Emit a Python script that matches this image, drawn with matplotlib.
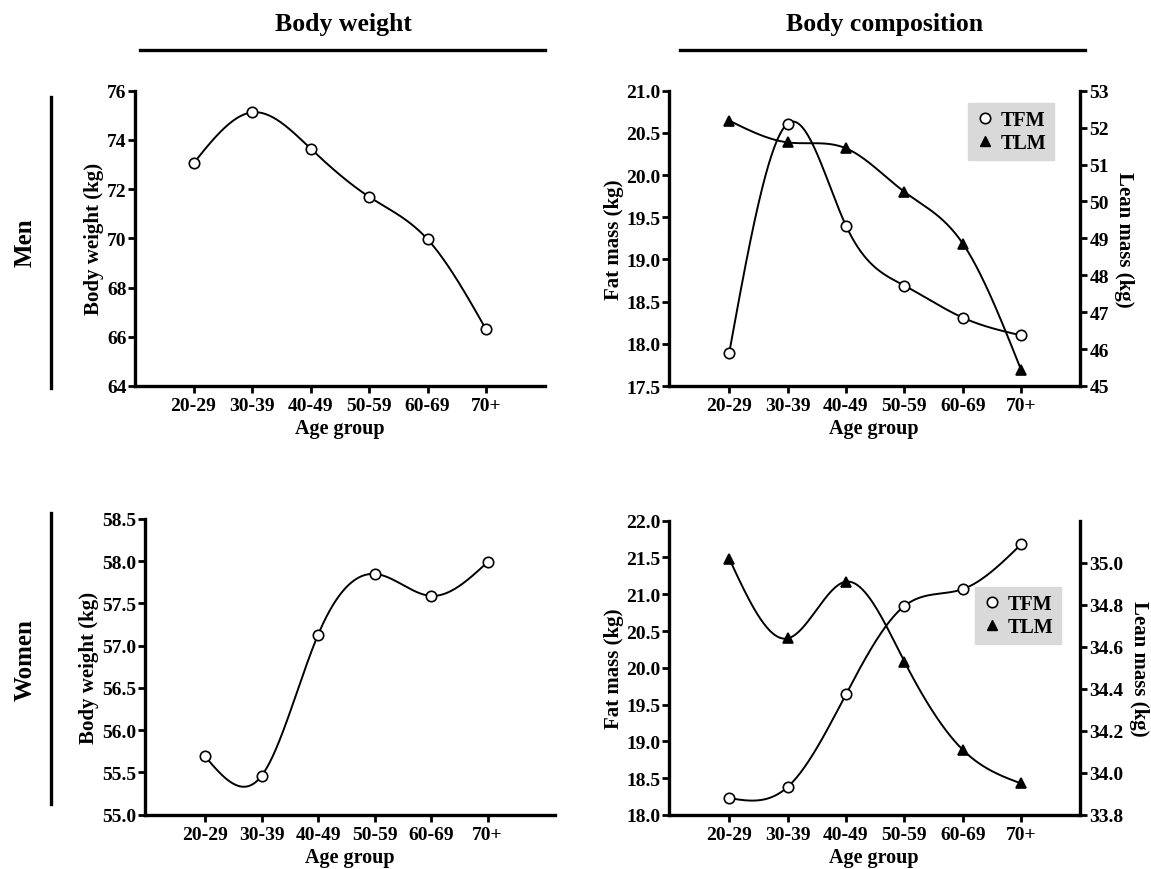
import numpy as np
import matplotlib
matplotlib.use('Agg')
import matplotlib.pyplot as plt
from matplotlib.lines import Line2D

# data
age_groups = ['20-29', '30-39', '40-49', '50-59', '60-69', '70+']
men_weight = [73.05, 75.12, 73.65, 71.69, 69.96, 66.30]
women_weight = [55.69, 55.46, 57.13, 57.85, 57.59, 57.99]
men_tfm = [17.89, 20.61, 19.40, 18.69, 18.31, 18.10]
men_tlm = [52.19, 51.60, 51.44, 50.26, 48.86, 45.43]
women_tfm = [18.23, 18.38, 19.64, 20.84, 21.07, 21.68]
women_tlm = [35.02, 34.64, 34.91, 34.53, 34.11, 33.95]

plt.rcParams['font.family'] = 'Liberation Serif'
plt.rcParams['font.weight'] = 'bold'
plt.rcParams['axes.labelweight'] = 'bold'

W, H = 1151, 870


def smooth(y, n=300):
    # natural cubic spline through the points (just for drawing the curve)
    x = np.arange(len(y), dtype=float)
    y = np.asarray(y, dtype=float)
    k = len(x)
    A = np.zeros((k, k))
    b = np.zeros(k)
    A[0, 0] = 1
    A[-1, -1] = 1
    for i in range(1, k - 1):
        A[i, i - 1] = 1
        A[i, i] = 4
        A[i, i + 1] = 1
        b[i] = 6 * (y[i + 1] - 2 * y[i] + y[i - 1])
    M = np.linalg.solve(A, b)
    xs = np.linspace(0, k - 1, n)
    ys = np.empty(n)
    for j, t in enumerate(xs):
        i = min(int(t), k - 2)
        a = i + 1 - t
        c = t - i
        ys[j] = (M[i] * a ** 3 + M[i + 1] * c ** 3) / 6 + (y[i] - M[i] / 6) * a + (y[i + 1] - M[i + 1] / 6) * c
    return xs, ys


def make_ax(fig, l, r, t, b):
    return fig.add_axes([l / W, 1 - b / H, (r - l) / W, (b - t) / H])


def style(ax):
    for s in ['top', 'right']:
        ax.spines[s].set_visible(False)
    ax.spines['left'].set_linewidth(2.4)
    ax.spines['bottom'].set_linewidth(2.4)
    ax.tick_params(axis='y', direction='out', length=5, width=2, labelsize=14, pad=1)
    ax.tick_params(axis='x', direction='out', length=5, width=2, labelsize=14, pad=3)
    ax.set_xticks(range(len(age_groups)))
    ax.set_xticklabels(age_groups)
    ax.set_xlabel('Age group', fontsize=14.5, labelpad=3)


def line(ax, y, marker, filled):
    xs, ys = smooth(y)
    ax.plot(xs, ys, color='k', lw=1.4, zorder=2)
    ax.plot(range(len(y)), y, ls='none', marker=marker, ms=7.5 if marker == 'o' else 7,
            mfc='k' if filled else 'white', mec='k', mew=1.2, zorder=3, clip_on=False)


fig = plt.figure(figsize=(W / 100, H / 100), dpi=100)

# headers
fig.text(343 / W, 1 - 24 / H, 'Body weight', ha='center', va='center', fontsize=18.5)
fig.text(885 / W, 1 - 24 / H, 'Body composition', ha='center', va='center', fontsize=18.5)
fig.add_artist(Line2D([140 / W, 545 / W], [1 - 51 / H, 1 - 51 / H], color='k', lw=2.4))
fig.add_artist(Line2D([680 / W, 1085 / W], [1 - 51 / H, 1 - 51 / H], color='k', lw=2.4))

# row labels
fig.text(25 / W, 1 - 243 / H, 'Men', rotation=90, ha='center', va='center', fontsize=18)
fig.text(25 / W, 1 - 660 / H, 'Women', rotation=90, ha='center', va='center', fontsize=18)
fig.add_artist(Line2D([51 / W, 51 / W], [1 - 98 / H, 1 - 389 / H], color='k', lw=2.4))
fig.add_artist(Line2D([51 / W, 51 / W], [1 - 514 / H, 1 - 805 / H], color='k', lw=2.4))

# men body weight
ax1 = make_ax(fig, 135, 544.6, 91.7, 387)
style(ax1)
line(ax1, men_weight, 'o', False)
ax1.set_xlim(-1, 6)
ax1.set_ylim(64, 76)
ax1.set_yticks(np.arange(64, 77, 2))
ax1.set_ylabel('Body weight (kg)', fontsize=15, labelpad=2)

# women body weight
ax3 = make_ax(fig, 144.6, 555.4, 520, 815.7)
style(ax3)
line(ax3, women_weight, 'o', False)
ax3.set_xlim(-1.07, 6.2)
ax3.set_ylim(55, 58.5)
ax3.set_yticks(np.arange(55, 58.51, 0.5))
ax3.set_yticklabels(['%.1f' % v for v in np.arange(55, 58.51, 0.5)])
ax3.set_ylabel('Body weight (kg)', fontsize=15, labelpad=2)


def legend(ax, x, y):
    handles = [Line2D([], [], ls='none', marker='o', ms=7.5, mfc='white', mec='k', mew=1.2),
               Line2D([], [], ls='none', marker='^', ms=7, mfc='k', mec='k')]
    lg = ax.legend(handles, ['TFM', 'TLM'], loc='upper left', bbox_to_anchor=(x, y),
                   fontsize=14.5, frameon=True, fancybox=False, facecolor='#d9d9d9',
                   edgecolor='#d9d9d9', framealpha=1, handlelength=1.0, handletextpad=0.3,
                   borderpad=0.35, labelspacing=0.15, borderaxespad=0)
    lg.set_zorder(10)


def composition(l, r, t, b, tfm, tlm, ylim1, yt1, ylim2, yt2, fmt2, lpos):
    ax = make_ax(fig, l, r, t, b)
    style(ax)
    ax.set_xlim(-1.03, 6)
    ax.set_ylim(*ylim1)
    ax.set_yticks(yt1)
    ax.set_yticklabels(['%.1f' % v for v in yt1])
    ax.set_ylabel('Fat mass (kg)', fontsize=15, labelpad=2)
    ax2 = ax.twinx()
    for s in ['top', 'left', 'bottom']:
        ax2.spines[s].set_visible(False)
    ax2.spines['right'].set_linewidth(2.4)
    ax2.tick_params(axis='y', direction='out', length=5, width=2, labelsize=14, pad=2)
    ax2.set_ylim(*ylim2)
    ax2.set_yticks(yt2)
    ax2.set_yticklabels([fmt2 % v for v in yt2])
    ax2.set_ylabel('Lean mass (kg)', fontsize=15, rotation=270, labelpad=18)
    line(ax, tfm, 'o', False)
    line(ax2, tlm, '^', True)
    legend(ax2, *lpos)


composition(669, 1079.6, 91.7, 387, men_tfm, men_tlm,
            (17.5, 21.0), np.arange(17.5, 21.01, 0.5),
            (45, 53), np.arange(45, 54, 1), '%d', (0.728, 0.958))
composition(669, 1079.6, 521.7, 816, women_tfm, women_tlm,
            (18.0, 22.0), np.arange(18.0, 22.01, 0.5),
            (33.8, 35.2), np.arange(33.8, 35.01, 0.2), '%.1f', (0.745, 0.775))

fig.savefig('out.png', dpi=100)
